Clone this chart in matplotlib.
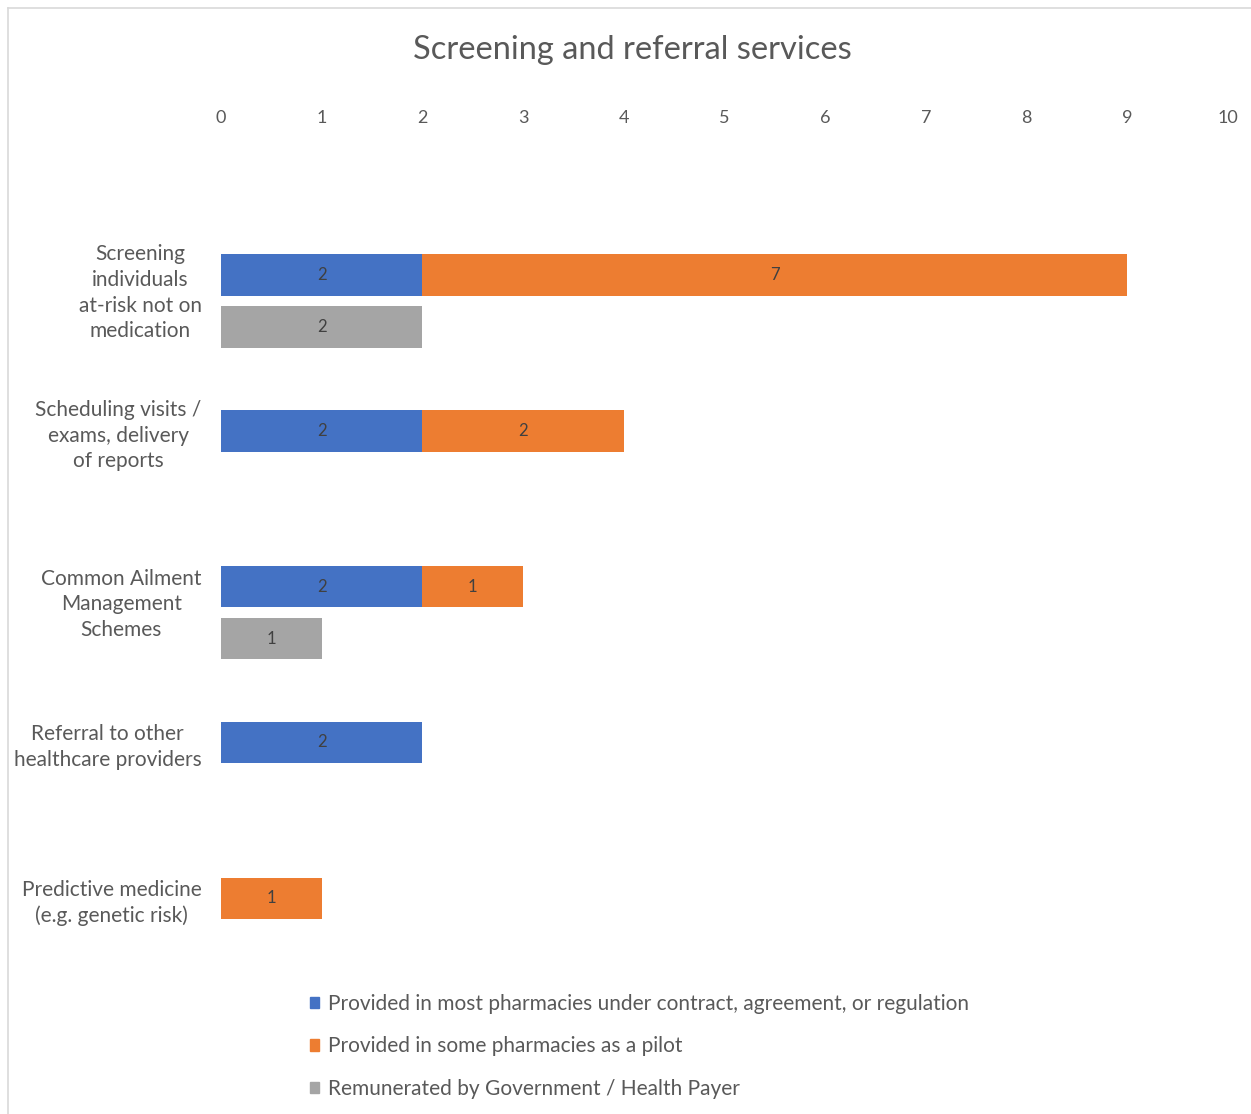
import numpy as np
import matplotlib.pyplot as plt
from matplotlib.patches import Patch
from matplotlib.lines import Line2D

plt.rcParams['font.family'] = ['Lato', 'DejaVu Sans']

# Data
services = ['Screening\nindividuals\nat-risk not on\nmedication',
            'Scheduling visits /\nexams, delivery\nof reports',
            'Common Ailment\nManagement\nSchemes',
            'Referral to other\nhealthcare providers',
            'Predictive medicine\n(e.g. genetic risk)']
contract = [2, 2, 2, 2, 0]
pilot = [7, 2, 1, 0, 1]
remunerated = [2, 0, 1, 0, 0]

series_names = ['Provided in most pharmacies under contract, agreement, or regulation',
                'Provided in some pharmacies as a pilot',
                'Remunerated by Government / Health Payer']
colors = ['#4472C4', '#ED7D31', '#A5A5A5']
txt_grey = '#595959'

W, H = 1251, 1114
fig = plt.figure(figsize=(W / 100, H / 100), dpi=100)
ax = fig.add_axes([221 / W, 1 - 970 / H, (1228 - 221) / W, (970 - 130) / H])

pos = np.arange(len(services)) * 3.0
bh = 0.8

def put_values(bars, vals):
    for b, v in zip(bars, vals):
        if v > 0:
            ax.text(b.get_x() + b.get_width() / 2, b.get_y() + b.get_height() / 2, str(v),
                    ha='center', va='center', fontsize=12, color='#404040')

b1 = ax.barh(pos, contract, height=bh, color=colors[0])
b2 = ax.barh(pos, pilot, left=contract, height=bh, color=colors[1])
b3 = ax.barh(pos + 1, remunerated, height=bh, color=colors[2])
put_values(b1, contract)
put_values(b2, pilot)
put_values(b3, remunerated)

ax.set_xlim(0, 10)
ax.set_ylim(13.38, -2.79)
ax.set_xticks(range(11))
ax.xaxis.tick_top()
ax.tick_params(axis='x', length=0, labelsize=13, labelcolor=txt_grey, pad=3)

# label sits a bit lower when a category has a second bar row
label_pos = [p + (0.25 if r > 0 else 0) for p, r in zip(pos, remunerated)]
ax.set_yticks(label_pos)
ax.set_yticklabels(services, fontsize=15, color=txt_grey, linespacing=1.35)
for lbl in ax.get_yticklabels():
    lbl.set_multialignment('center')
ax.tick_params(axis='y', length=0, pad=14)
for s in ax.spines.values():
    s.set_visible(False)

fig.text(632 / W, 1 - 50 / H, 'Screening and referral services', ha='center', va='center',
         fontsize=23.5, color=txt_grey)

handles = [Patch(color=c) for c in colors]
fig.legend(handles, series_names, loc='upper left', bbox_to_anchor=(310 / W, 1 - 994 / H),
           frameon=False, fontsize=15, labelcolor=txt_grey, handlelength=0.45, handleheight=0.45,
           handletextpad=0.4, labelspacing=1.08, borderaxespad=0, borderpad=0)

# thin frame round the chart area
fig.add_artist(Line2D([8 / W, 1], [1 - 8 / H, 1 - 8 / H], color='#D9D9D9', lw=1.2))
fig.add_artist(Line2D([8 / W, 8 / W], [0, 1 - 8 / H], color='#D9D9D9', lw=1.2))

fig.savefig('out.png', dpi=100, facecolor='white')
